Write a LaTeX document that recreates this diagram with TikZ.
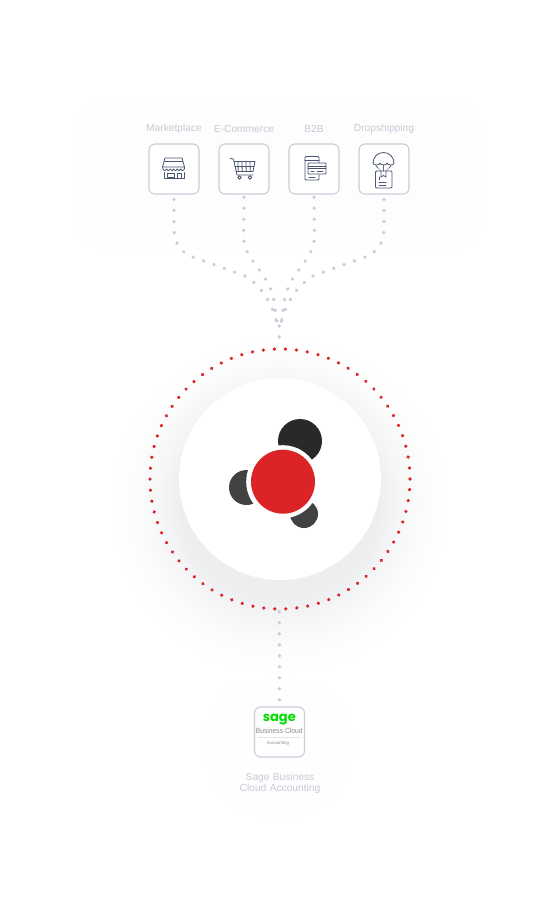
\documentclass[tikz,border=0pt]{standalone}
\usepackage{fontspec}
\usetikzlibrary{decorations.markings}
\setmainfont{Liberation Sans}
\newfontfamily\sagefont{Poppins}
\definecolor{lab}{HTML}{C6CAD6}
\definecolor{boxc}{HTML}{C9CDD9}
\definecolor{dotc}{HTML}{CBCDD8}
\definecolor{ico}{HTML}{4C5672}
\definecolor{ringred}{HTML}{DE1F27}
\definecolor{logored}{HTML}{DC2327}
\definecolor{sagegreen}{HTML}{00DC00}
\definecolor{shadowc}{HTML}{EDEEF0}
\tikzset{
  iconbox/.style={draw=boxc,line width=1.1pt,rounded corners=6pt,minimum size=50pt,inner sep=0pt,fill=white},
  captext/.style={text=lab,font=\fontsize{10.2}{12}\selectfont,align=center,inner sep=0pt},
  dotline/.style={decorate,decoration={markings,mark=between positions #1 and 1 step 11pt with {\fill[dotc] (0,0) circle[radius=1.9pt];}}},
  icl/.style={draw=ico,line width=0.8pt,line join=round,line cap=round},
}
\begin{document}
\begin{tikzpicture}[x=1pt,y=-1pt]
\useasboundingbox (0,0) rectangle (558,911);
% faint background glows
\fill[black!.4,rounded corners=30pt] (75,100) rectangle (482,250);
\fill[black!.6,rounded corners=20pt] (105,125) rectangle (452,225);
\foreach \r in {75,65}{\fill[black!.5] (279,745) circle[radius=\r];}
% soft shadow of the disc
\foreach \i in {0,...,40}{
  \pgfmathsetmacro{\pc}{100*(\i/40)^2}
  \fill[shadowc!\pc!white] (280,508-0.2*\i) circle[radius=180-2*\i];
}
% main disc and ring
\node[circle,fill=white,minimum size=202pt,inner sep=0pt] (disc) at (280,479) {};
\node[circle,minimum size=260pt,inner sep=0pt,postaction={decorate,decoration={markings,mark=between positions 0 and 0.995 step 0.0135135 with {\fill[ringred] (0,0) circle[radius=1.8pt];}}}] (ring) at (280,479) {};
% logo
\fill[black!84] (300,441) circle[radius=22];
\fill[black!74] (246.5,487.5) circle[radius=17.5];
\fill[black!74] (304,514) circle[radius=14];
\fill[white] (282.7,481.7) circle[radius=36.5];
\node[circle,fill=logored,minimum size=64pt,inner sep=0pt] (core) at (283,481.7) {};
% boxes
\node[iconbox] (mk) at (174,169) {};
\node[iconbox] (ec) at (244,169) {};
\node[iconbox] (bb) at (314,169) {};
\node[iconbox] (ds) at (384,169) {};
\node[iconbox] (sage) at (279.5,732) {};
% captions
\node[captext] at (174,128.5) {Marketplace};
\node[captext] at (244,128.5) {E-Commerce};
\node[captext] at (314,128.5) {B2B};
\node[captext] at (384,128.5) {Dropshipping};
\node[captext,text width=100pt,font=\fontsize{10.2}{10.5}\selectfont] at (280,783.5) {Sage Business\\Cloud Accounting};
% connectors
\coordinate (hubtop) at (279.3,326);
\coordinate (hub) at (279.3,337);
\coordinate (ringb) at (279.3,609);
\path[dotline=5pt] (mk.south) -- (174,228) .. controls (174.5,248) and (184,253) .. (193,257) -- (245,276) .. controls (262,286) and (272,305) .. (276,319.3) -- (hubtop);
\path[dotline=2.7pt] (ec.south) -- (243.5,235) .. controls (243.5,264) and (272,270) .. (275,309) -- (276,319.3) -- (hubtop);
\path[dotline=2.7pt] (bb.south) -- (314.5,235) .. controls (314.5,264) and (286,270) .. (283.3,309) -- (282,319.3) -- (hubtop);
\path[dotline=5pt] (ds.south) -- (384,228) .. controls (383.5,248) and (374,253) .. (365,257) -- (313,276) .. controls (296,286) and (286,305) .. (282,319.3) -- (hubtop);
\path[dotline=0pt] (hubtop) -- (hub);
\path[dotline=6.7pt] (sage.north) -- (ringb);
% icons
\begin{scope}[icl]
\draw (165,158) -- (182,158) -- (184.5,167) -- (162.5,167) -- cycle;
\draw (164.5,161.5) -- (182.5,161.5);
\draw (162.5,167) -- (163,169) arc[start angle=180,end angle=0,radius=1.78] arc[start angle=180,end angle=0,radius=1.78] arc[start angle=180,end angle=0,radius=1.78] arc[start angle=180,end angle=0,radius=1.78] arc[start angle=180,end angle=0,radius=1.78] arc[start angle=180,end angle=0,radius=1.78] -- (184.5,167);
\draw (164,172.5) -- (164,178.5) -- (184,178.5) -- (184,172.5);
\draw (167,173) rectangle (174,177);
\draw (177,178.5) -- (177,173) -- (181.5,173) -- (181.5,178.5);
% cart
\draw (230,158.5) -- (233.5,159) -- (237,175) -- (253,175);
\draw (234,161.5) -- (255,161.5) -- (253,171.5) -- (236,171.5);
\foreach \x in {238,242,246,250}{\draw (\x,161.5) -- (\x+0.2,171.5);}
\draw (234.8,166.5) -- (254,166.5);
\draw (239.5,177.5) circle[radius=1.8];
\draw (250,177.5) circle[radius=1.8];
% B2B
\draw[rounded corners=1pt] (305,156.5) rectangle (319,180);
\draw (305,160.5) -- (319,160.5);
\draw[fill=white,rounded corners=1pt] (308,163) rectangle (326,174);
\draw (308,166) -- (326,166);
\draw (308,168) -- (326,168);
\draw (311,171) -- (314,171);
\draw (317,171) -- (323,171);
\draw (309,177) -- (315,177);
% Dropshipping
\draw (373,163) arc[start angle=180,end angle=360,radius=10.5];
\draw (373,163) arc[start angle=180,end angle=0,x radius=3.5,y radius=2] arc[start angle=180,end angle=0,x radius=3.5,y radius=2] arc[start angle=180,end angle=0,x radius=3.5,y radius=2];
\draw[densely dotted] (376,166) -- (381,171);
\draw[densely dotted] (391,166) -- (386,171);
\draw[densely dotted] (383.5,165) -- (383.5,171);
\draw[rounded corners=1pt] (375.5,171) rectangle (392,188);
\draw (381,171) -- (381,177) -- (383.5,175.5) -- (386,177) -- (386,171);
\draw (379,180) -- (379,177);
\draw (379,182) -- (386,182);
\draw (379,185) -- (386,185);
\end{scope}
% Sage contents
\node[inner sep=0pt,text=sagegreen,font=\sagefont\fontsize{13}{14}\selectfont\bfseries] at (279.3,719.5) {sage};
\node[inner sep=0pt,text=black!45,font=\fontsize{7.5}{8}\selectfont,xscale=.9] at (279.3,731) {Business Cloud};
\draw[black!10,line width=.5pt] (258,737.5) -- (301,737.5);
\node[inner sep=0pt,text=black!45,font=\fontsize{4.5}{5}\selectfont] at (278,743) {Accounting};
\end{tikzpicture}
\end{document}
